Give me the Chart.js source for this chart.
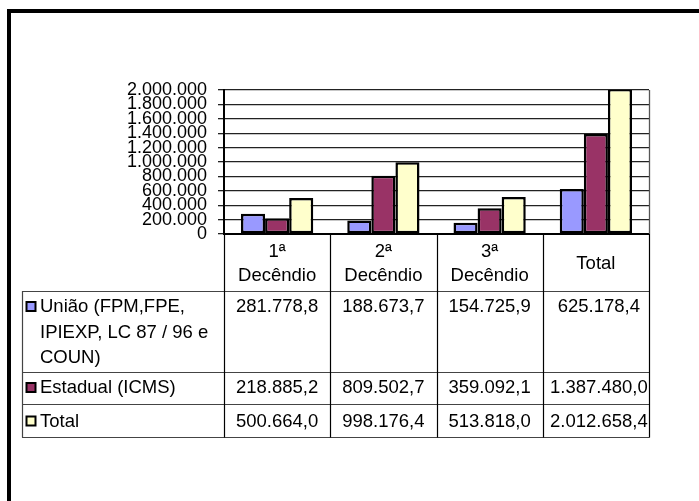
<!DOCTYPE html>
<html><head><meta charset="utf-8">
<script src="https://cdn.jsdelivr.net/npm/chart.js@4"></script>
<style>html,body{margin:0;padding:0;background:#fff;overflow:hidden}#c{display:block}</style>
</head><body>
<canvas id="c" width="699" height="501"></canvas>
<script>
// ---- data ----
const categories = [['1ª', 'Decêndio'], ['2ª', 'Decêndio'], ['3ª', 'Decêndio'], ['Total']];
const seriesNames = [['União (FPM,FPE,', 'IPIEXP, LC 87 / 96 e', 'COUN)'], ['Estadual (ICMS)'], ['Total']];
const uniao = [281778.8, 188673.7, 154725.9, 625178.4];
const estadual = [218885.2, 809502.7, 359092.1, 1387480.0];
const total = [500664.0, 998176.4, 513818.0, 2012658.4];
const yTickLabels = ['0', '200.000', '400.000', '600.000', '800.000', '1.000.000', '1.200.000', '1.400.000', '1.600.000', '1.800.000', '2.000.000'];

const colors = ['#9999FF', '#993366', '#FFFFCC'];
const FONT = "'Liberation Sans', Arial, sans-serif";

function fmt(v) {
  const s = v.toFixed(1);
  const [ip, dp] = s.split('.');
  return ip.replace(/\B(?=(\d{3})+(?!\d))/g, '.') + ',' + dp;
}

const tablePlugin = {
  id: 'tablePlugin',
  beforeDraw(chart) {
    const ctx = chart.ctx;
    ctx.save();
    ctx.fillStyle = '#fff';
    ctx.fillRect(0, 0, chart.width, chart.height);
    ctx.restore();
  },
  afterDraw(chart) {
    const ctx = chart.ctx;
    const ca = chart.chartArea;
    const xs = chart.scales.x;
    const n = categories.length;
    const step = xs.getPixelForValue(1) - xs.getPixelForValue(0);
    const edges = [];
    for (let i = 0; i <= n; i++) edges.push(xs.getPixelForValue(0) - step / 2 + i * step);
    const tableLeft = 22;
    const hTop = ca.bottom, hBot = 291;
    const rowBottoms = [372, 404, 437];
    const lineH = 25.5;
    ctx.save();
    // outer frame
    ctx.fillStyle = '#000';
    ctx.fillRect(7, 9, 4, chart.height);
    ctx.fillRect(7, 9, chart.width, 4);
    // plot border right
    ctx.strokeStyle = '#555';
    ctx.lineWidth = 1.3;
    ctx.beginPath();
    ctx.moveTo(Math.round(ca.right) + 0.5, ca.top);
    ctx.lineTo(Math.round(ca.right) + 0.5, ca.bottom);
    ctx.stroke();
    // horizontal lines
    ctx.strokeStyle = '#444';
    ctx.lineWidth = 1.2;
    [hBot].concat(rowBottoms).forEach(y => {
      ctx.beginPath();
      ctx.moveTo(tableLeft, y + 0.5);
      ctx.lineTo(edges[n] + 0.5, y + 0.5);
      ctx.stroke();
    });
    // vertical lines
    ctx.strokeStyle = '#000';
    edges.forEach((x) => {
      ctx.beginPath();
      ctx.moveTo(Math.round(x) + 0.5, hTop);
      ctx.lineTo(Math.round(x) + 0.5, rowBottoms[2] + 0.5);
      ctx.stroke();
    });
    ctx.strokeStyle = '#444';
    ctx.beginPath();
    ctx.moveTo(tableLeft + 0.5, hBot);
    ctx.lineTo(tableLeft + 0.5, rowBottoms[2] + 0.5);
    ctx.stroke();

    ctx.fillStyle = '#000';
    ctx.font = '18.5px ' + FONT;
    ctx.textAlign = 'center';
    ctx.textBaseline = 'middle';
    // header
    categories.forEach((lab, i) => {
      const cx = (edges[i] + edges[i + 1]) / 2;
      if (lab.length === 1) {
        ctx.fillText(lab[0], cx, (hTop + hBot) / 2 + 1);
      } else {
        ctx.fillText(lab[0], cx, 252);
        ctx.fillText(lab[1], cx, 276);
      }
    });
    // rows
    const series = [uniao, estadual, total];
    const firstLineY = [307, 388, 421.5];
    series.forEach((vals, r) => {
      const y0 = firstLineY[r];
      ctx.fillStyle = colors[r];
      ctx.fillRect(26.5, y0 - 5, 9, 9);
      ctx.strokeStyle = '#000';
      ctx.lineWidth = 2;
      ctx.strokeRect(26.5, y0 - 5, 9, 9);
      ctx.fillStyle = '#000';
      ctx.textAlign = 'left';
      seriesNames[r].forEach((t, k) => ctx.fillText(t, 40, y0 + k * lineH));
      ctx.textAlign = 'center';
      vals.forEach((v, i) => {
        const cx = (edges[i] + edges[i + 1]) / 2;
        ctx.fillText(fmt(v), cx + (i === 3 ? 3 : 0), y0);
      });
    });
    ctx.restore();
  }
};

new Chart(document.getElementById('c'), {
  type: 'bar',
  data: {
    labels: categories.map(c => c.join(' ')),
    datasets: [
      { label: seriesNames[0].join(' '), data: uniao, backgroundColor: colors[0] },
      { label: seriesNames[1].join(' '), data: estadual, backgroundColor: colors[1] },
      { label: seriesNames[2].join(' '), data: total, backgroundColor: colors[2] }
    ].map(d => Object.assign(d, { borderColor: '#000', borderWidth: 2.5, borderSkipped: false, categoryPercentage: 0.68, barPercentage: 1 }))
  },
  options: {
    responsive: false,
    animation: false,
    devicePixelRatio: 1,
    layout: { padding: { left: 0, right: 50, top: 90, bottom: 0 } },
    plugins: { legend: { display: false }, tooltip: { enabled: false } },
    scales: {
      x: {
        offset: true,
        grid: { display: false },
        border: { display: true, color: '#000', width: 2 },
        ticks: { display: false },
        afterFit: s => { s.height = 267; }
      },
      y: {
        min: 0, max: 2000000,
        afterBuildTicks: s => { s.ticks = yTickLabels.map((_, i) => ({ value: i * 200000 })); },
        ticks: {
          stepSize: 200000,
          autoSkip: false,
          padding: 11,
          color: '#000',
          font: { family: FONT, size: 18, lineHeight: 1 },
          callback: (v, i) => yTickLabels[i]
        },
        grid: { color: '#222', lineWidth: 1.3, tickLength: 6, drawTicks: true },
        border: { display: true, color: '#000', width: 2 },
        afterFit: s => { s.width = 224; }
      }
    }
  },
  plugins: [tablePlugin]
});
</script>
</body></html>
